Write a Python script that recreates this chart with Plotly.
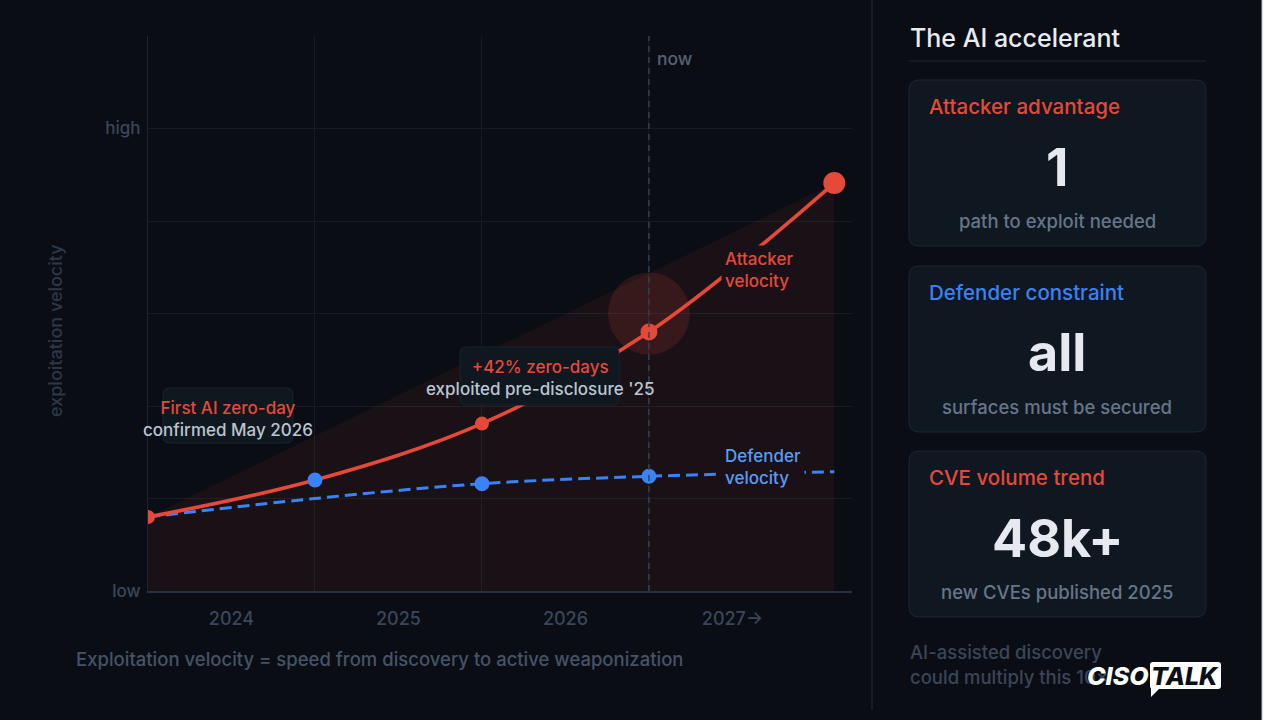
import plotly.graph_objects as go

# ---------------- data ----------------
x_pos = [0, 1, 2, 3, 4.11]
attacker = [0.80, 1.20, 1.81, 2.80, 4.41]
defender = [0.80, 1.00, 1.16, 1.24, 1.29]
year_ticks = [0.5, 1.5, 2.5, 3.5]
year_labels = ["2024", "2025", "2026", "2027→"]
year_grid = [0, 1, 2, 3]
y_ticks = [0, 5]
y_labels = ["low", "high"]
now_x = 3
halo_y = 3.0
attacker_marker_idx = [0, 2, 3, 4]
attacker_marker_size = [14, 14, 17, 22]
defender_marker_x = [1, 2, 3]
defender_marker_y = [attacker[1], defender[2], defender[3]]

cards = [
    ("Attacker advantage", "1", "path to exploit needed", "#e5493a"),
    ("Defender constraint", "all", "surfaces must be secured", "#3b82f6"),
    ("CVE volume trend", "48k+", "new CVEs published 2025", "#e5493a"),
]

# ---------------- style ----------------
BG = "#0a0d14"
FILL_BLEND = "#191117"
RED = "#e5493a"
BLUE = "#3b82f6"
GRID = "#141c26"
FONT = "Inter"
WT = 500

W, H = 1280, 720
L, R, T, B = 148, 852, 36, 591


def px(X):
    return (X - L) / (R - L)


def py(Y):
    return (B - Y) / (B - T)


def rrect(x0, y0, x1, y1, r):
    pts = [
        ("M", [(x0 + r, y0)]), ("L", [(x1 - r, y0)]), ("Q", [(x1, y0), (x1, y0 + r)]),
        ("L", [(x1, y1 - r)]), ("Q", [(x1, y1), (x1 - r, y1)]), ("L", [(x0 + r, y1)]),
        ("Q", [(x0, y1), (x0, y1 - r)]), ("L", [(x0, y0 + r)]), ("Q", [(x0, y0), (x0 + r, y0)]),
    ]
    s = ""
    for cmd, ps in pts:
        s += cmd + " ".join(f"{px(a):.5f},{py(b):.5f}" for a, b in ps) + " "
    return s + "Z"


fig = go.Figure()

# shaded wedge
fig.add_trace(go.Scatter(
    x=[x_pos[0], x_pos[0], x_pos[-1], x_pos[-1]],
    y=[0, attacker[0], attacker[-1], 0],
    fill="toself", fillcolor="rgba(229,73,58,0.07)", mode="lines",
    line=dict(width=0), hoverinfo="skip", showlegend=False))

# halo at "now"
fig.add_trace(go.Scatter(
    x=[now_x], y=[halo_y], mode="markers",
    marker=dict(size=82, color="rgba(229,73,58,0.15)", opacity=1, line=dict(width=0)),
    hoverinfo="skip", showlegend=False))

# defender line
fig.add_trace(go.Scatter(
    x=x_pos, y=defender, mode="lines", line=dict(color=BLUE, width=3, dash="12px,6px", shape="spline"),
    showlegend=False))

# attacker line
fig.add_trace(go.Scatter(
    x=x_pos, y=attacker, mode="lines", line=dict(color=RED, width=3.7, shape="spline"),
    showlegend=False))

# markers
fig.add_trace(go.Scatter(
    x=[x_pos[i] for i in attacker_marker_idx], y=[attacker[i] for i in attacker_marker_idx],
    mode="markers", marker=dict(size=attacker_marker_size, color=RED, opacity=1, line=dict(width=0)),
    showlegend=False))
fig.add_trace(go.Scatter(
    x=defender_marker_x, y=defender_marker_y, mode="markers",
    marker=dict(size=15, color=BLUE, opacity=1, line=dict(width=0)), showlegend=False))

shapes = []
# now line
shapes.append(dict(type="line", xref="x", yref="paper", x0=now_x, x1=now_x, y0=0, y1=1,
                   line=dict(color="#334052", width=1.5, dash="6px,5px"), layer="above"))
# annotation boxes in chart
shapes.append(dict(type="path", xref="paper", yref="paper", path=rrect(163, 388, 293, 443, 7),
                   fillcolor="#0f171f", line=dict(color="#1b242e", width=1), layer="above"))
shapes.append(dict(type="path", xref="paper", yref="paper", path=rrect(460, 347, 619, 405, 7),
                   fillcolor="#0f171f", line=dict(color="#1b242e", width=1), layer="above"))
# right panel separator
shapes.append(dict(type="line", xref="paper", yref="paper", x0=px(872), x1=px(872), y0=py(0), y1=py(710),
                   line=dict(color="#1a222d", width=1.5)))
# title underline
shapes.append(dict(type="line", xref="paper", yref="paper", x0=px(909), x1=px(1206), y0=py(61), y1=py(61),
                   line=dict(color="#1e2733", width=1)))
# cards
card_tops = [80, 266, 451]
for top in card_tops:
    shapes.append(dict(type="path", xref="paper", yref="paper", path=rrect(909, top, 1206, top + 166, 10),
                       fillcolor="#0f1720", line=dict(color="#1d2733", width=1)))
# logo box + tail
shapes.append(dict(type="path", xref="paper", yref="paper", path=rrect(1150, 662, 1221, 689, 3),
                   fillcolor="#ffffff", line=dict(width=0), layer="above"))
shapes.append(dict(type="path", xref="paper", yref="paper",
                   path=f"M{px(1151)},{py(688)} L{px(1160)},{py(688)} L{px(1151)},{py(697)} Z",
                   fillcolor="#ffffff", line=dict(width=0), layer="above"))
# white strip at right edge
shapes.append(dict(type="rect", xref="paper", yref="paper", x0=px(1262), x1=px(1290), y0=py(730), y1=py(-10),
                   fillcolor="#ffffff", line=dict(width=0), layer="above"))
shapes.append(dict(type="line", xref="paper", yref="paper", x0=px(1262), x1=px(1262), y0=py(720), y1=py(0),
                   line=dict(color="#b8bcc2", width=1), layer="above"))

ann = []


def text(X, Y, s, size, color, xanchor="left", weight=WT, **kw):
    ann.append(dict(xref="paper", yref="paper", x=px(X), y=py(Y), text=s, showarrow=False,
                    xanchor=xanchor, yanchor="middle",
                    font=dict(family=FONT, size=size, color=color, weight=weight), **kw))


# chart annotations
text(228, 419, f"<span style='color:{RED}'>First AI zero-day</span><br>confirmed May 2026", 17, "#bcc5d1",
     xanchor="center", align="center")
text(540, 378, f"<span style='color:{RED}'>+42% zero-days</span><br>exploited pre-disclosure '25", 17, "#bcc5d1",
     xanchor="center", align="center")
text(721, 270, "Attacker<br>velocity", 17, RED, align="left", bgcolor=FILL_BLEND, borderpad=3)
text(721, 467, "Defender<br>velocity", 17, "#5b9cf5", align="left", bgcolor=FILL_BLEND, borderpad=3)
text(655, 58, "now", 17.5, "#566275")
# y axis title
ann.append(dict(xref="paper", yref="paper", x=px(55), y=py(331), text="exploitation velocity", showarrow=False,
                textangle=-90, xanchor="center", yanchor="middle",
                font=dict(family=FONT, size=18, color="#2c3847", weight=WT)))
# caption
text(74, 659, "Exploitation velocity = speed from discovery to active weaponization", 18.5, "#465366")

# right panel
text(908, 38, "The AI accelerant", 25, "#e8ebf0")
for (head, big, sub, col), top in zip(cards, card_tops):
    text(927, top + 26, head, 20.5, col)
    text(1057, top + 87, big, 52, "#e6e9f0", xanchor="center", weight=700)
    text(1057, top + 141, sub, 18.5, "#67758a", xanchor="center")
text(908, 652, "AI-assisted discovery", 18.5, "#3a4658")
text(908, 677, "could multiply this 10×", 18.5, "#3a4658")
# logo
text(1118, 676, "<i>CISO</i>", 25, "#ffffff", xanchor="center", weight=800)
text(1185, 676, "<i>TALK</i>", 25, "#0b0f16", xanchor="center", weight=800)

fig.update_layout(
    width=W, height=H, autosize=False,
    margin=dict(l=L, r=W - R, t=T, b=H - B, pad=0),
    paper_bgcolor=BG, plot_bgcolor=BG,
    font=dict(family=FONT),
    shapes=shapes, annotations=ann, showlegend=False,
    xaxis=dict(range=[0, 4.216], tickmode="array", tickvals=year_ticks, ticktext=year_labels,
               showgrid=False, zeroline=False, showline=True, linecolor="#253040", linewidth=1.5,
               ticks="", ticklabelstandoff=11, tickfont=dict(size=18, color="#3a475a", family=FONT, weight=WT),
               minor=dict(tickmode="array", tickvals=year_grid, showgrid=True, gridcolor=GRID, gridwidth=1, ticks=""),
               fixedrange=True),
    yaxis=dict(range=[0, 6], tickmode="array", tickvals=y_ticks, ticktext=y_labels,
               showgrid=False, zeroline=False, showline=True, linecolor="#1c2632", linewidth=1,
               ticks="", ticklabelstandoff=3, tickfont=dict(size=17, color="#3a475a", family=FONT, weight=WT),
               minor=dict(tickmode="linear", tick0=0, dtick=1, showgrid=True, gridcolor=GRID, gridwidth=1, ticks=""),
               fixedrange=True),
)

fig.write_html("out.html", config={"displayModeBar": False},
               post_script="document.body.style.margin='0';document.body.style.overflow='hidden';"
                           "document.body.style.background='#ffffff';")
